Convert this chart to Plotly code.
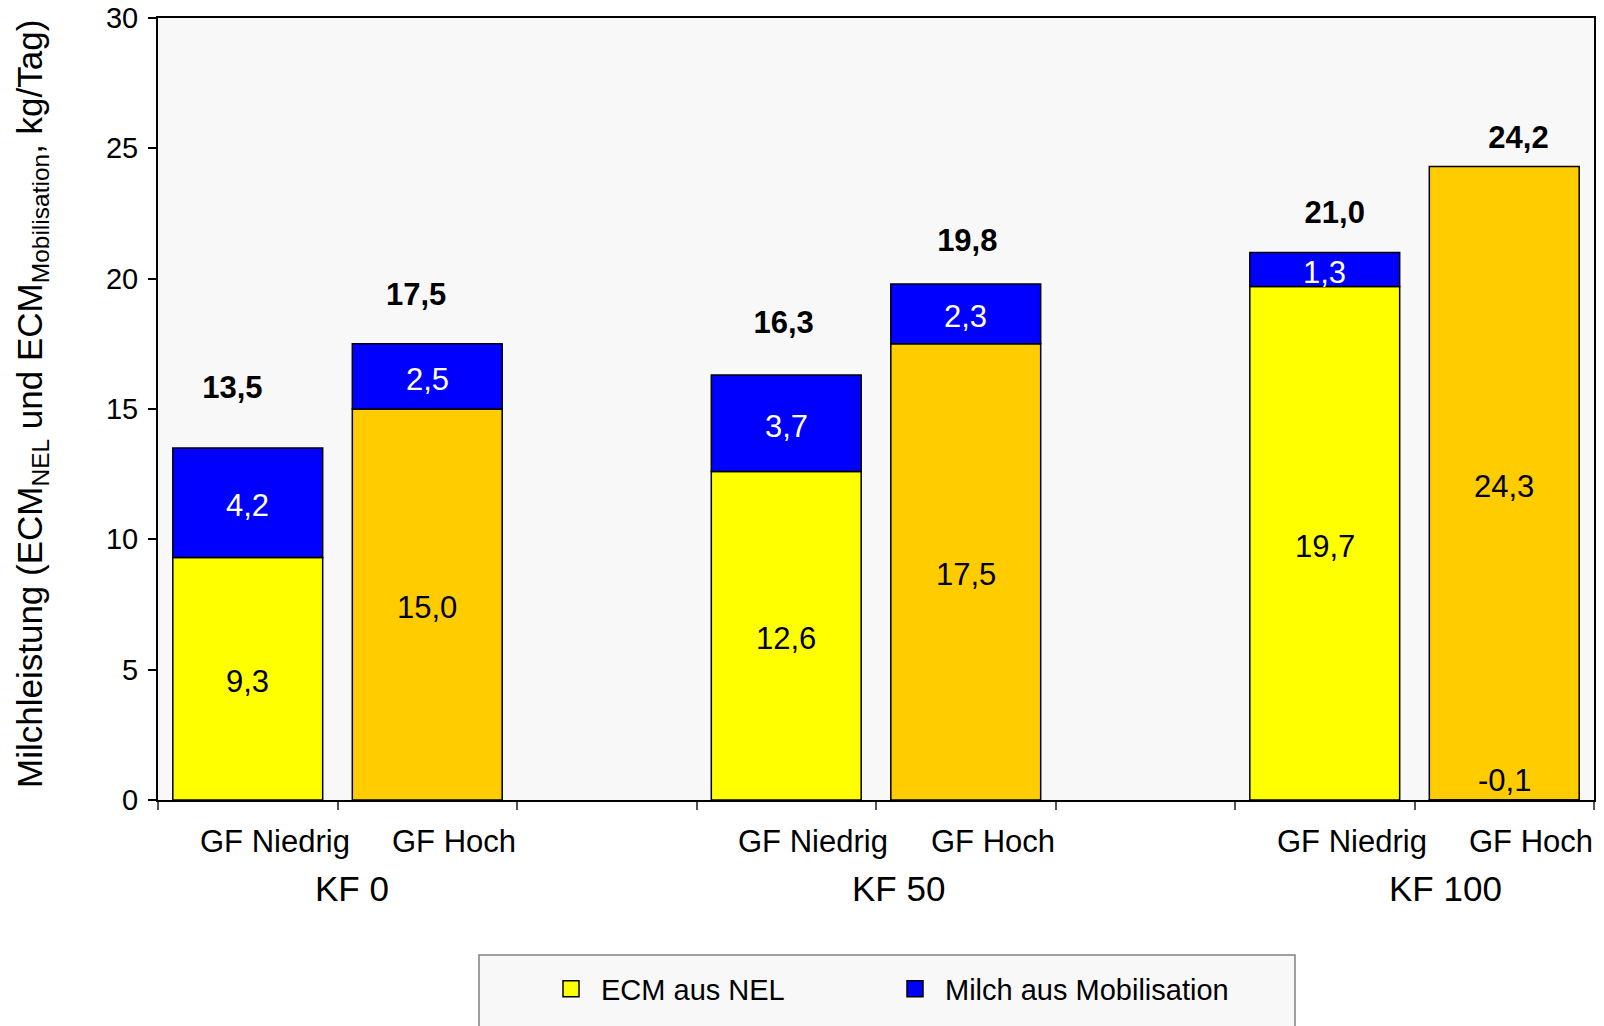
import plotly.graph_objects as go

# ---- data ----
groups = ["KF 0", "KF 50", "KF 100"]
levels = ["GF Niedrig", "GF Hoch"]
ecm_nel = [9.3, 15.0, 12.6, 17.5, 19.7, 24.3]
milch_mob = [4.2, 2.5, 3.7, 2.3, 1.3, -0.1]
totals = [13.5, 17.5, 16.3, 19.8, 21.0, 24.2]
series_names = ["ECM aus NEL", "Milch aus Mobilisation"]
y_ticks = [0, 5, 10, 15, 20, 25, 30]

# ---- styling ----
FONT = "Liberation Sans, Arial, sans-serif"
YELLOW = "#FFFF00"
ORANGE = "#FFCC00"
BLUE = "#0000FF"
BG = "#F8F8F8"

W, H = 1604, 1026
L, R, T, B = 158, 10, 18, 226
PW, PH = W - L - R, H - T - B


def px_x(px):
    return (px - L) / PW


def px_y(py):
    return (H - B - py) / PH


def fmt(v):
    return f"{v:.1f}".replace(".", ",")


n_lv = len(levels)
x_pos = [g * (n_lv + 1) + i for g in range(len(groups)) for i in range(n_lv)]
nel_colors = [YELLOW if i % n_lv == 0 else ORANGE for i in range(len(x_pos))]
bar_w = 0.835

fig = go.Figure()
fig.add_trace(go.Bar(x=x_pos, y=ecm_nel, width=bar_w, name=series_names[0],
                     marker=dict(color=nel_colors, line=dict(color="black", width=1.5)),
                     showlegend=False, hoverinfo="skip"))
fig.add_trace(go.Bar(x=x_pos, y=milch_mob, width=bar_w, name=series_names[1],
                     marker=dict(color=BLUE, line=dict(color="black", width=1.5)),
                     showlegend=False, hoverinfo="skip"))
# totals as a text series on hidden secondary axes (like the original's overlay series)
fig.add_trace(go.Scatter(x=x_pos, y=totals, xaxis="x2", yaxis="y2", mode="text",
                         text=["<b>" + fmt(v) + "</b>" for v in totals],
                         textposition="middle center",
                         textfont=dict(family=FONT, size=31, color="black"),
                         showlegend=False, hoverinfo="skip", cliponaxis=False))
# legend entries
for nm, col in zip(series_names, [YELLOW, BLUE]):
    fig.add_trace(go.Scatter(x=[None], y=[None], mode="markers", name=nm,
                             marker=dict(symbol="square", size=16, color=col,
                                         line=dict(color="black", width=1.5))))

ann = []
for j, xp in enumerate(x_pos):
    ann.append(dict(x=xp, y=ecm_nel[j] / 2, text=fmt(ecm_nel[j]), showarrow=False,
                    font=dict(family=FONT, size=31, color="black"), yanchor="middle", yshift=-3))
    if milch_mob[j] >= 0:
        ann.append(dict(x=xp, y=ecm_nel[j] + milch_mob[j] / 2, text=fmt(milch_mob[j]),
                        showarrow=False, font=dict(family=FONT, size=31, color="white"),
                        yanchor="middle", yshift=-3))
    else:
        ann.append(dict(x=xp, y=0, text=fmt(milch_mob[j]), showarrow=False,
                        font=dict(family=FONT, size=31, color="black"), yanchor="bottom"))
    ann.append(dict(x=xp + 0.15, xref="x", y=px_y(842), yref="paper", text=levels[j % n_lv],
                    showarrow=False, font=dict(family=FONT, size=31, color="black"),
                    yanchor="middle"))
for g, gname in enumerate(groups):
    ann.append(dict(x=0.58 + 3.047 * g, xref="x", y=px_y(888), yref="paper",
                    text=gname, showarrow=False,
                    font=dict(family=FONT, size=35, color="black"), yanchor="middle"))
# y-axis title
ann.append(dict(x=px_x(32), y=px_y(404), xref="paper", yref="paper", textangle=-90,
                text="Milchleistung (ECM<sub>NEL</sub> und ECM<sub>Mobilisation</sub>, kg/Tag)",
                showarrow=False, font=dict(family=FONT, size=35, color="black"),
                xanchor="center", yanchor="middle"))

fig.update_layout(
    width=W, height=H,
    margin=dict(l=L, r=R, t=T, b=B, pad=0, autoexpand=False),
    paper_bgcolor="white", plot_bgcolor=BG,
    barmode="relative",
    font=dict(family=FONT, size=29, color="black"),
    annotations=ann,
    showlegend=True,
    legend=dict(orientation="h", x=px_x(541), y=px_y(989), xanchor="left", yanchor="middle",
                bgcolor="rgba(0,0,0,0)", borderwidth=0, itemwidth=50,
                font=dict(family=FONT, size=29, color="black"),
                entrywidth=279, entrywidthmode="pixels"),
    shapes=[dict(type="rect", xref="paper", yref="paper",
                 x0=px_x(479), x1=px_x(1295), y0=px_y(955), y1=px_y(1040),
                 fillcolor=BG, line=dict(color="#808080", width=1.5), layer="below")],
    xaxis2=dict(overlaying="x", range=[-0.405, 7.411], visible=False),
    yaxis2=dict(overlaying="y", range=[-3.97, 29.41], visible=False),
)
fig.layout.xaxis.update(range=[-0.5, x_pos[-1] + 0.5], showgrid=False, zeroline=False,
                        tickvals=[v - 0.5 for v in range(x_pos[-1] + 2)], showticklabels=False,
                        ticks="outside", ticklen=8, tickcolor="#555555", tickwidth=1.5,
                        showline=True, linecolor="black", linewidth=2, mirror=True,
                        automargin=False)
fig.layout.yaxis.update(range=[0, 30], tickvals=y_ticks, showgrid=False, zeroline=False,
                        ticks="outside", ticklen=8, tickcolor="black", tickwidth=1.5,
                        tickfont=dict(family=FONT, size=29), ticklabelstandoff=4,
                        showline=True, linecolor="black", linewidth=2, mirror=True,
                        automargin=False)

fig.write_html("out.html", config={"displayModeBar": False},
               post_script="document.body.style.margin='0';")
